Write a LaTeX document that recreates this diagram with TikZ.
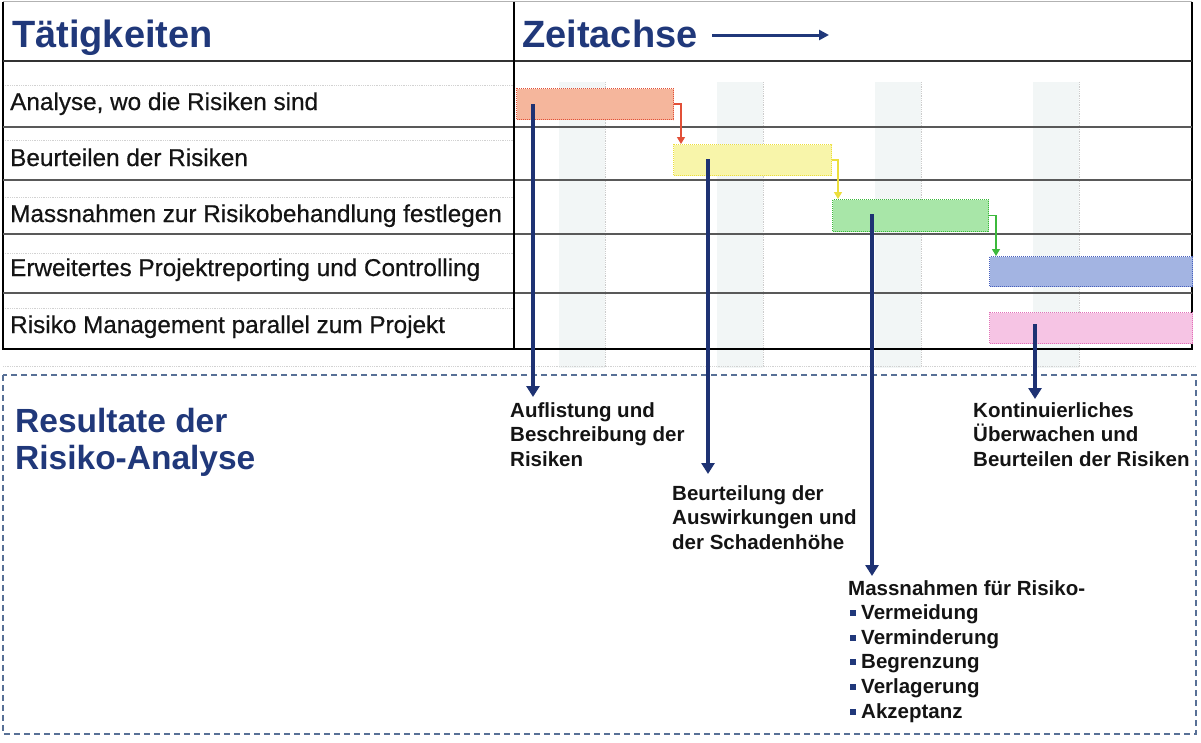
\documentclass[tikz,border=0pt]{standalone}
\usepackage{fontspec}
\setmainfont{Liberation Sans}
\newfontface\rowface{Liberation Sans}[FakeBold=0.5]
\usetikzlibrary{arrows.meta}
\definecolor{navy}{RGB}{32,56,122}
\definecolor{arrnavy}{RGB}{30,50,115}
\definecolor{salfill}{RGB}{245,182,156}
\definecolor{salline}{RGB}{226,80,56}
\definecolor{yelfill}{RGB}{248,245,170}
\definecolor{yelline}{RGB}{236,222,60}
\definecolor{grnfill}{RGB}{168,230,168}
\definecolor{grnline}{RGB}{60,185,60}
\definecolor{blufill}{RGB}{163,180,226}
\definecolor{bluline}{RGB}{72,96,190}
\definecolor{pnkfill}{RGB}{246,196,228}
\definecolor{pnkline}{RGB}{226,112,184}
\definecolor{bandfill}{RGB}{242,246,246}
\definecolor{boxdash}{RGB}{88,112,150}
\newcommand{\bul}{\makebox[13pt][l]{\hspace{2pt}\textcolor{navy}{\rule[3.5pt]{6pt}{6pt}}}}
\begin{document}
\begin{tikzpicture}[x=1pt,y=-1pt,
  rowlab/.style={anchor=base west,inner sep=0pt,font=\rowface\fontsize{24.3}{28}\selectfont,text=black!92},
  title/.style={inner sep=0pt,font=\fontsize{38}{44}\selectfont\bfseries,text=navy},
  reslab/.style={anchor=north west,inner sep=0pt,align=left,font=\fontsize{20.5}{24.6}\selectfont\bfseries,text=black!92},
  bar/.style={anchor=north west,inner sep=0pt,line width=1pt,densely dotted},
  band/.style={fill=bandfill},
  bandedge/.style={draw=gray!40,densely dotted,line width=0.8pt},
  dep/.style={line width=1.2pt,-{Triangle[width=8pt,length=7pt]}},
  bluearr/.style={draw=arrnavy,line width=4pt,-{Triangle[width=13pt,length=11pt]}},
  rowsep/.style={draw=black!65,line width=1.6pt},
  faint/.style={draw=gray!35,densely dotted,line width=0.8pt}]
\useasboundingbox (0,0) rectangle (1201,742);
\fill[white] (0,0) rectangle (1201,742);
% time bands
\foreach \x in {559,717,875,1033}{
  \fill[band] (\x,82) rectangle (\x+46,368);
  \draw[bandedge] (\x+46,82) -- (\x+46,368);
}
% faint helper lines
\foreach \y in {85,140,197,253,308}{
  \draw[faint] (3,\y) -- (514,\y);
}
\draw[faint] (3,366) -- (1196,366);
% table frame
\draw[draw=gray!60,line width=1pt] (3,1.5) -- (1192,1.5);
\draw[line width=2pt] (3,1.5) -- (3,349) -- (1192,349) -- (1192,1.5);
\draw[draw=black!80,line width=2.5pt] (3,61) -- (1192,61);
\foreach \y in {127,180,234,293}{
  \draw[rowsep] (3,\y) -- (1192,\y);
}
\draw[line width=2pt] (514,1.5) -- (514,349);
% headers
\node[title,anchor=base west] (tt) at (12,47) {Tätigkeiten};
\node[title,anchor=base west] (zt) at (522,47) {Zeitachse};
\coordinate (za) at (712,35);
\coordinate (zb) at (829,35);
\draw[draw=navy,line width=3pt,-{Triangle[width=10pt,length=10pt]}] (za) -- (zb);
% row labels
\node[rowlab] (r1) at (10,110) {Analyse, wo die Risiken sind};
\node[rowlab] (r2) at (10,166) {Beurteilen der Risiken};
\node[rowlab] (r3) at (10,222) {Massnahmen zur Risikobehandlung festlegen};
\node[rowlab] (r4) at (10,276) {Erweitertes Projektreporting und Controlling};
\node[rowlab] (r5) at (10,333) {Risiko Management parallel zum Projekt};
% bars
\node[bar,fill=salfill,draw=salline,minimum width=157,minimum height=31] (b1) at (516,88) {};
\node[bar,fill=yelfill,draw=yelline,minimum width=158,minimum height=31] (b2) at (673,144) {};
\node[bar,fill=grnfill,draw=grnline,minimum width=156,minimum height=32] (b3) at (832,199) {};
\node[bar,fill=blufill,draw=bluline,minimum width=203,minimum height=30] (b4) at (989,256) {};
\node[bar,fill=pnkfill,draw=pnkline,minimum width=203,minimum height=31] (b5) at (989,312) {};
% dependencies
\draw[dep,draw=salline] (b1.east) -- ++(7,0) coordinate (k1) -- (k1 |- b2.north);
\draw[dep,draw=yelline] (b2.east) -- ++(6,0) coordinate (k2) -- (k2 |- b3.north);
\draw[dep,draw=grnline] (b3.east) -- ++(7,0) coordinate (k3) -- (k3 |- b4.north);
% result box
\draw[draw=boxdash,line width=1.3pt,dash pattern=on 6pt off 4pt] (3,375) rectangle (1196,734);
\node[anchor=north west,inner sep=0pt,align=left,font=\fontsize{33.5}{37}\selectfont\bfseries,text=navy] (res) at (15,408) {Resultate der\\Risiko-Analyse};
% result labels
\node[reslab] (l1) at (510,402) {Auflistung und\\Beschreibung der\\Risiken};
\node[reslab] (l2) at (672,485) {Beurteilung der\\Auswirkungen und\\der Schadenhöhe};
\node[reslab] (l3) at (848,580) {Massnahmen für Risiko-\\\bul Vermeidung\\\bul Verminderung\\\bul Begrenzung\\\bul Verlagerung\\\bul Akzeptanz};
\node[reslab] (l4) at (973,402) {Kontinuierliches\\Überwachen und\\Beurteilen der Risiken};
% blue arrows
\coordinate (s1) at (533,104);
\coordinate (e1) at (533,397);
\coordinate (s2) at (708,159);
\coordinate (e2) at (708,474);
\coordinate (s3) at (872,214);
\coordinate (e3) at (872,576);
\coordinate (s4) at (1035,324);
\coordinate (e4) at (1035,399);
\draw[bluearr] (s1) -- (e1);
\draw[bluearr] (s2) -- (e2);
\draw[bluearr] (s3) -- (e3);
\draw[bluearr] (s4) -- (e4);
\end{tikzpicture}
\end{document}
